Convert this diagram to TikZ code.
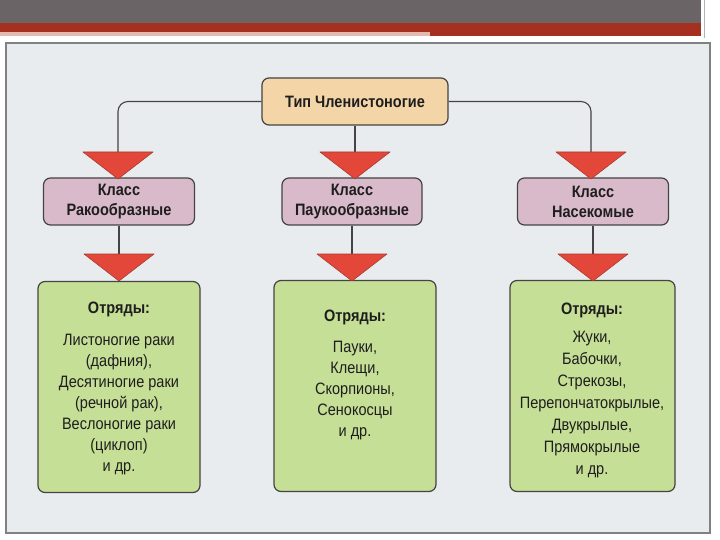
\documentclass[tikz,border=0pt]{standalone}
\usepackage{fontspec}
\setmainfont{Liberation Sans}[FakeStretch=0.88]
\usetikzlibrary{calc}
\definecolor{barD}{HTML}{6A6466}
\definecolor{barR}{HTML}{A5301F}
\definecolor{barL}{HTML}{E3B9B0}
\definecolor{paper}{HTML}{E8ECEE}
\definecolor{frameC}{HTML}{7E8284}
\definecolor{lineC}{HTML}{454343}
\definecolor{peach}{HTML}{F3D5A8}
\definecolor{mauve}{HTML}{D9BACB}
\definecolor{leaf}{HTML}{C6DF96}
\definecolor{triR}{HTML}{E2473A}
\definecolor{triE}{HTML}{A83A30}
\definecolor{txt}{HTML}{1E1E1E}
\begin{document}
\begin{tikzpicture}[x=1pt,y=-1pt,
  box/.style={draw=lineC, line width=1.2pt, rounded corners=7pt, inner sep=0pt, text=txt},
  topbox/.style={box, fill=peach, minimum width=186pt, minimum height=47pt, font=\bfseries\fontsize{16.5}{18}\selectfont},
  classbox/.style={box, fill=mauve, minimum height=47pt, align=center, font=\bfseries\fontsize{16.5}{20}\selectfont},
  greenbox/.style={box, fill=leaf, minimum width=162pt, minimum height=211pt},
  head/.style={font=\bfseries\fontsize{16.5}{18}\selectfont, text=txt, inner sep=0pt},
  items/.style={font=\fontsize{16.5}{21}\selectfont, align=center, text=txt, inner sep=0pt, anchor=north},
  conn/.style={draw=lineC, line width=1.1pt, rounded corners=10pt},
  tri/.style={fill=triR, draw=triE, line width=0.6pt, line join=round}]
\useasboundingbox (0,0) rectangle (720,540);
% slide background
\fill[white] (0,0) rectangle (720,540);
\fill[barD] (0,0) rectangle (701,23);
\fill[barR] (0,23) rectangle (701,36);
\fill[barL] (0,32) rectangle (430,36);
\draw[frameC!60, line width=1pt] (704,0) -- (704,38);
\fill[paper] (6,43) rectangle (710,533);
\draw[frameC, line width=1.2pt] (6,43) rectangle (710,533);
% nodes
\node[topbox] (top) at (355,101.5) {Тип Членистоногие};
\node[classbox, minimum width=151pt] (cL) at (119,201.5) {Класс\\Ракообразные};
\node[classbox, minimum width=140pt] (cC) at (352,201.5) {Класс\\Паукообразные};
\node[classbox, minimum width=151pt] (cR) at (593,201.5) {Класс\\Насекомые};
\node[greenbox] (gL) at (119,387) {};
\node[greenbox] (gC) at (355,386) {};
\node[greenbox, minimum width=165pt] (gR) at (592.5,386) {};
% triangle tops
\coordinate (tL) at (118,152);
\coordinate (tC) at (355,152);
\coordinate (tR) at (591,152);
\coordinate (uL) at (119,254);
\coordinate (uC) at (352,254);
\coordinate (uR) at (593,254);
% connectors
\draw[conn] (top.west) -| (tL);
\draw[conn] (top.east) -| (tR);
\draw[conn] (top.south) -- (tC);
\draw[conn] (cL.south) -- (uL);
\draw[conn] (cC.south) -- (uC);
\draw[conn] (cR.south) -- (uR);
% triangles
\foreach \c in {tL,tC,tR,uL,uC,uR}{
  \filldraw[tri] ($(\c)+(-35,0)$) -- ($(\c)+(35,0)$) -- ($(\c)+(0,27)$) -- cycle;
}
% texts in green boxes
\node[head] (hL) at (119,309) {Отряды:};
\node[head] (hC) at (355,317) {Отряды:};
\node[head] (hR) at (592,310) {Отряды:};
\node[items] (iL) at (119,334) {Листоногие раки\\(дафния),\\Десятиногие раки\\(речной рак),\\Веслоногие раки\\(циклоп)\\и др.};
\node[items] (iC) at (355,341) {Пауки,\\Клещи,\\Скорпионы,\\Сенокосцы\\и др.};
\node[items, font=\fontsize{16.5}{22}\selectfont] (iR) at (592,331) {Жуки,\\Бабочки,\\Стрекозы,\\Перепончатокрылые,\\Двукрылые,\\Прямокрылые\\и др.};
\end{tikzpicture}
\end{document}
